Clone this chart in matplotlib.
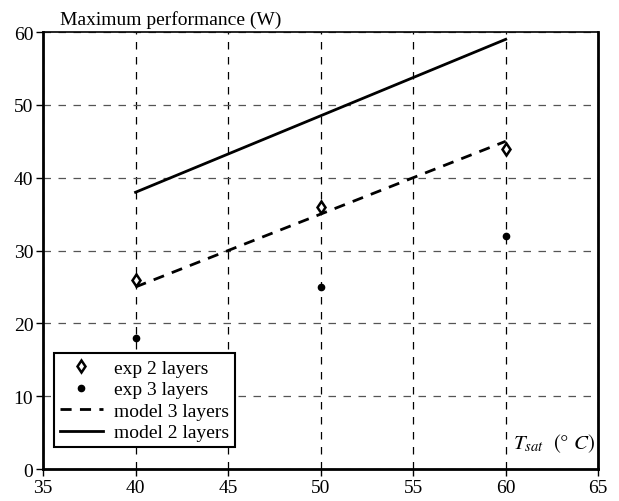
import matplotlib
matplotlib.use('Agg')
from matplotlib import pyplot as plt

plt.rcParams['font.family'] = 'Liberation Serif'
plt.rcParams['mathtext.fontset'] = 'stix'

tsat = [40, 50, 60]
exp2 = [26, 36, 44]
exp3 = [18, 25, 32]
modelX = [40, 60]
model3 = [25, 45]
model2 = [38, 59]

fig = plt.figure(figsize=(6.19, 5.02), dpi=100)
ax = fig.add_axes([0.0695, 0.0637, 0.897, 0.8705])

ax.grid(True, axis='x', color='black', linestyle=(0, (6, 6)), linewidth=0.9)
ax.grid(True, axis='y', color='#555555', linestyle=(0, (6, 6)), linewidth=0.9)
ax.set_axisbelow(True)

ax.plot(tsat, exp2, linestyle='none', marker='d', markersize=6.5, markerfacecolor='white',
        markeredgecolor='black', markeredgewidth=1.8, label='exp 2 layers', zorder=5)
ax.plot(tsat, exp3, linestyle='none', marker='o', markersize=4.5, color='black',
        label='exp 3 layers', zorder=5)
ax.plot(modelX, model3, color='black', linestyle=(0, (4, 3)), linewidth=2, label='model 3 layers')
ax.plot(modelX, model2, color='black', linestyle='-', linewidth=2, label='model 2 layers')

ax.set_xlim(35, 65)
ax.set_ylim(0, 60)
ax.set_xticks([35, 40, 45, 50, 55, 60, 65])
ax.set_yticks([0, 10, 20, 30, 40, 50, 60])
ax.tick_params(labelsize=14, direction='out', length=5, width=1, pad=2)
for s in ['left', 'bottom', 'right']:
    ax.spines[s].set_linewidth(2)
ax.spines['top'].set_linewidth(1.2)

fig.text(0.097, 0.943, 'Maximum performance (W)', fontsize=14, ha='left', va='bottom')
ax.text(0.995, 0.035, r'$T_{sat}$  $(°\ C)$', transform=ax.transAxes, fontsize=15,
        ha='right', va='bottom')

leg = ax.legend(loc='lower left', bbox_to_anchor=(0.02, 0.05), fontsize=14, frameon=True,
                fancybox=False, framealpha=1, edgecolor='black', borderpad=0.3,
                labelspacing=0.2, handlelength=2.2, handletextpad=0.6, borderaxespad=0)
leg.get_frame().set_linewidth(1.5)

fig.savefig('out.png', dpi=100)
